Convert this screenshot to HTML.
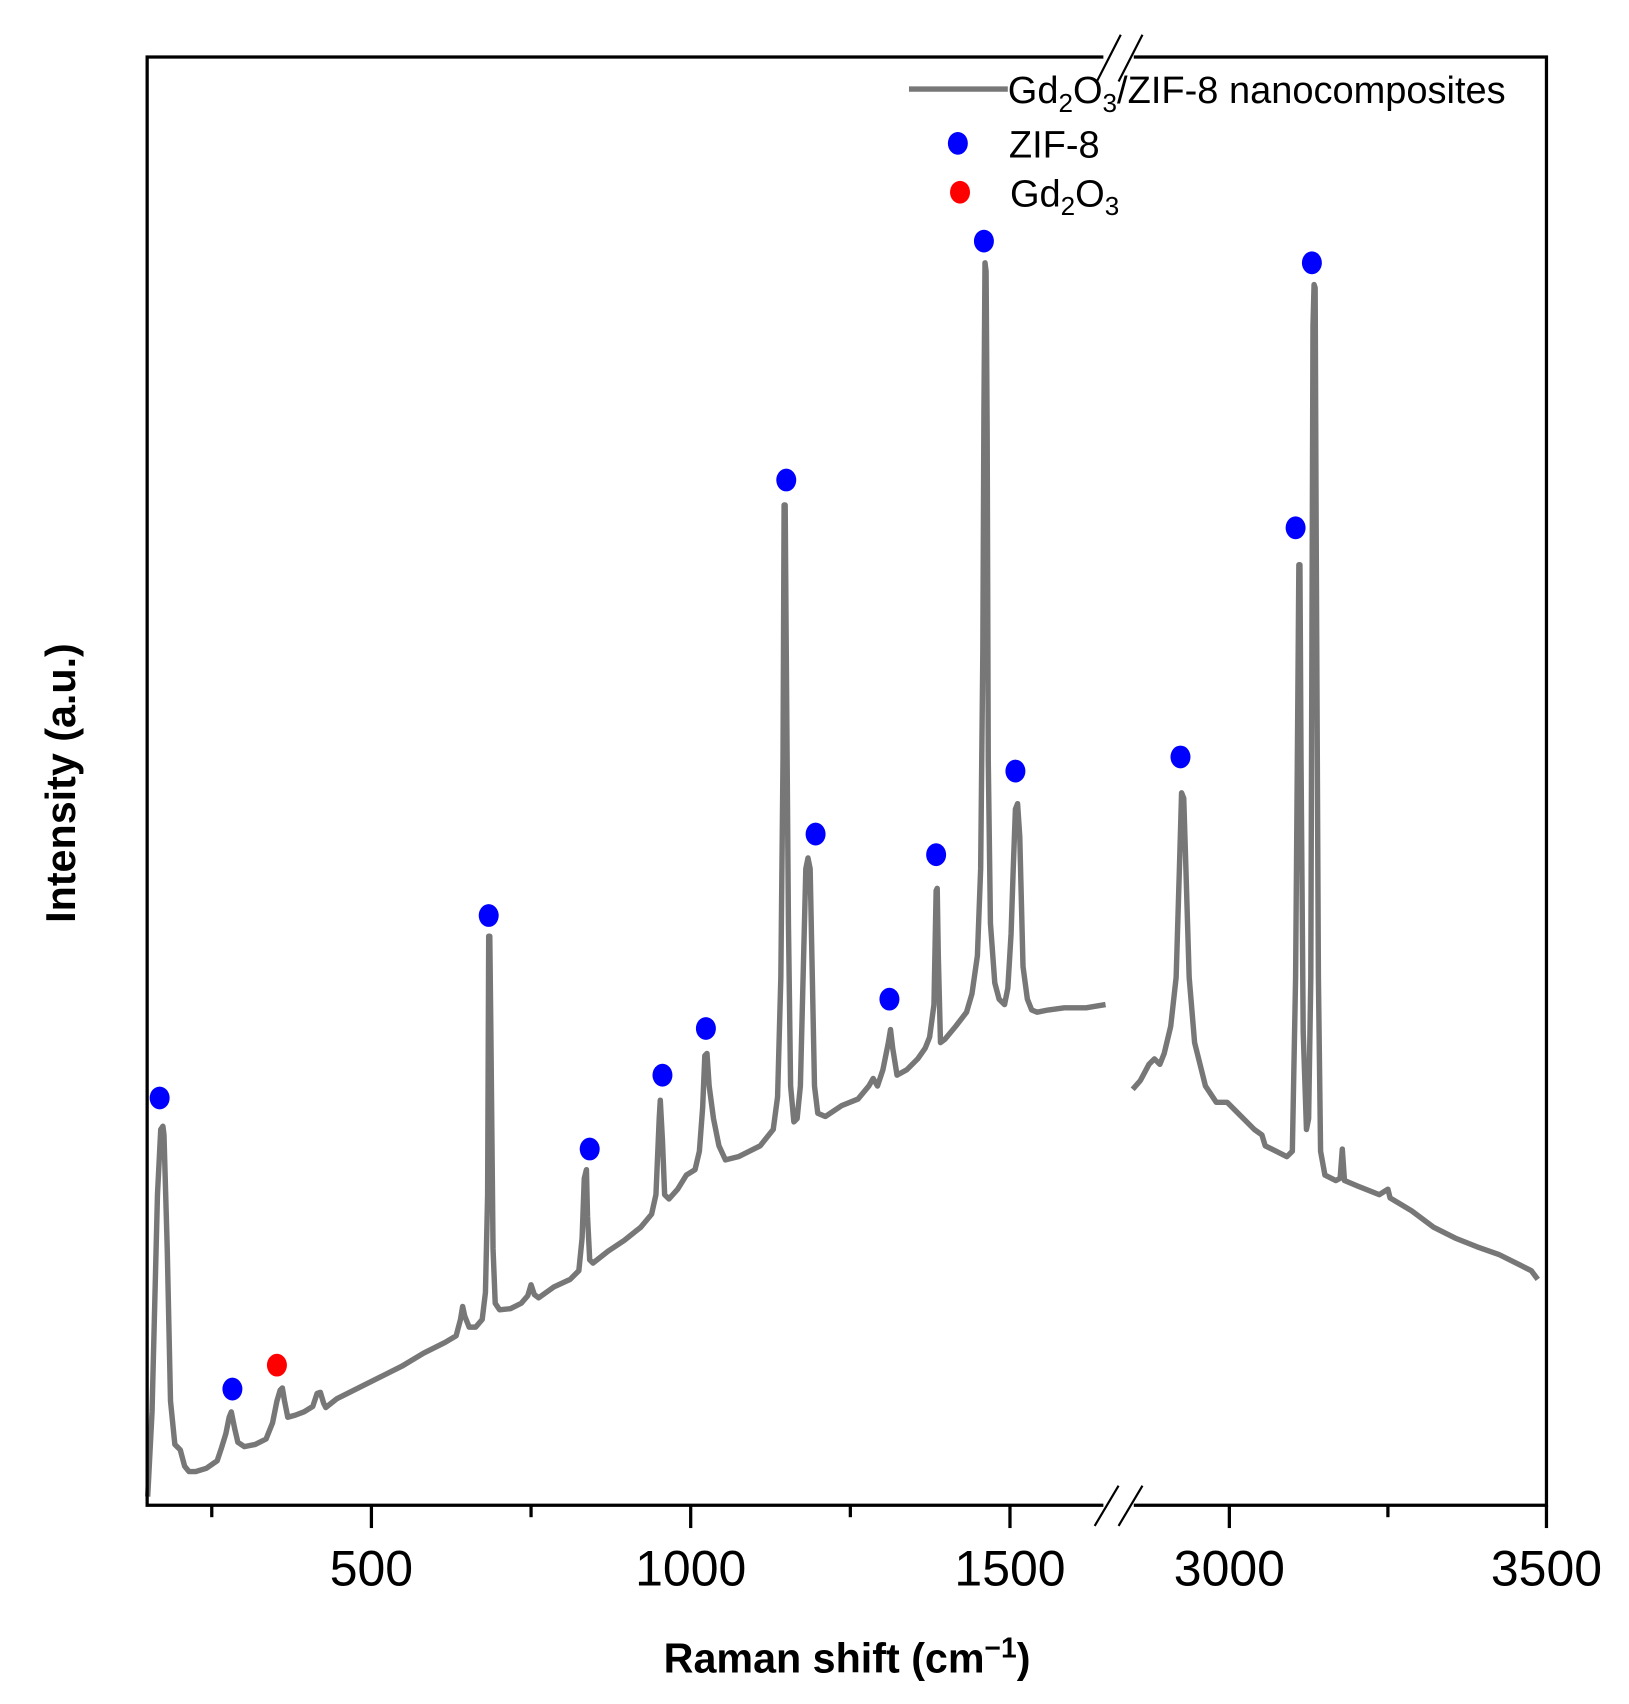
<!DOCTYPE html>
<html><head><meta charset="utf-8"><style>html,body{margin:0;padding:0;background:#fff}svg{display:block}</style></head>
<body>
<svg width="1629" height="1704" viewBox="0 0 1500 1569" preserveAspectRatio="none" xmlns="http://www.w3.org/2000/svg" font-family="Liberation Sans, Arial, sans-serif">
<rect width="1500" height="1569" fill="#fff"/>
<g fill="none" stroke="#777" stroke-width="5" stroke-linejoin="round">
<polyline points="136,1378 140,1300 145,1100 148,1040 150,1037 151,1045 154,1150 157,1290 161,1330 166,1335 170,1350 174,1355 180,1355 190,1352 200,1345 204,1333 208,1320 211,1305 213,1300 216,1315 219,1328 225,1332 235,1330 245,1325 251,1310 255,1290 258,1280 260,1278 262,1290 265,1305 272,1303 280,1300 288,1295 292,1283 295,1282 298,1292 300,1296 310,1288 330,1278 350,1268 370,1258 390,1246 410,1236 420,1230 424,1215 426,1203 428,1212 432,1222 438,1222 444,1215 447,1190 449,1100 450,862 451,862 452,950 454,1150 456,1200 460,1206 470,1205 480,1200 486,1193 489,1183 492,1192 496,1195 510,1185 525,1178 533,1170 536,1140 538,1085 540,1077 541,1120 543,1160 546,1163 560,1152 575,1142 590,1130 600,1118 604,1100 607,1030 608,1013 610,1050 612,1100 616,1104 624,1095 632,1082 640,1077 644,1060 647,1020 649,972 651,970 653,1000 657,1030 662,1055 668,1068 680,1065 700,1055 712,1040 716,1010 719,900 721,700 722,465 723,465 724,600 726,850 728,1000 731,1033 734,1030 737,1000 740,880 742,800 744,790 746,800 748,900 750,1000 753,1025 760,1028 775,1018 790,1012 800,1000 804,993 808,1000 813,985 818,960 820,948 822,965 826,990 835,985 845,975 852,965 856,955 860,925 862,820 863,818 864,880 866,960 870,957 880,945 890,932 895,915 900,880 903,800 905,600 906,380 907,242 908,250 909,400 910,700 912,850 916,905 920,920 925,925 928,910 931,860 933,800 935,745 937,740 939,770 942,890 946,920 950,930 955,932 965,930 980,928 1000,928 1018,925"/>
<polyline points="1043,1003 1050,995 1058,980 1063,975 1068,980 1072,970 1078,945 1083,900 1086,800 1088,730 1090,735 1092,800 1095,900 1100,960 1110,1000 1120,1015 1130,1015 1140,1025 1155,1040 1162,1045 1165,1055 1175,1060 1185,1065 1190,1060 1193,900 1195,650 1196,520 1197,520 1198,700 1200,950 1203,1040 1205,1030 1207,900 1208,600 1209,300 1210,262 1211,265 1212,500 1214,900 1216,1060 1220,1082 1230,1087 1234,1085 1236,1058 1238,1087 1250,1092 1270,1100 1278,1095 1280,1103 1300,1115 1320,1130 1340,1140 1360,1148 1380,1155 1400,1165 1410,1170 1416,1178"/>
</g>
<g fill="#0000ff">
<ellipse cx="147" cy="1011" rx="9.2" ry="10.5"/><ellipse cx="214" cy="1279" rx="9.2" ry="10.5"/><ellipse cx="450" cy="843" rx="9.2" ry="10.5"/><ellipse cx="543" cy="1058" rx="9.2" ry="10.5"/><ellipse cx="610" cy="990" rx="9.2" ry="10.5"/><ellipse cx="650" cy="947" rx="9.2" ry="10.5"/><ellipse cx="724" cy="442" rx="9.2" ry="10.5"/><ellipse cx="751" cy="768" rx="9.2" ry="10.5"/><ellipse cx="819" cy="920" rx="9.2" ry="10.5"/><ellipse cx="862" cy="787" rx="9.2" ry="10.5"/><ellipse cx="906" cy="222" rx="9.2" ry="10.5"/><ellipse cx="935" cy="710" rx="9.2" ry="10.5"/><ellipse cx="1087" cy="697" rx="9.2" ry="10.5"/><ellipse cx="1193" cy="486" rx="9.2" ry="10.5"/><ellipse cx="1208" cy="242" rx="9.2" ry="10.5"/>
<ellipse cx="882" cy="132" rx="9.2" ry="10.5"/>
</g>
<g fill="#ff0000"><ellipse cx="255" cy="1257" rx="9.2" ry="10.5"/><ellipse cx="884" cy="177" rx="9.2" ry="10.5"/></g>
<line x1="837" y1="82" x2="928" y2="82" stroke="#777" stroke-width="5"/>
<g font-size="35" fill="#000">
<text x="928" y="95">Gd<tspan font-size="24" dy="8">2</tspan><tspan dy="-8">O</tspan><tspan font-size="24" dy="8">3</tspan><tspan dy="-8">/ZIF-8 nanocomposites</tspan></text>
<text x="929" y="145">ZIF-8</text>
<text x="930" y="190">Gd<tspan font-size="24" dy="8">2</tspan><tspan dy="-8">O</tspan><tspan font-size="24" dy="8">3</tspan></text>
</g>
<g stroke="#000" stroke-width="3" fill="none">
<rect x="135.5" y="52.5" width="1288.5" height="1333.5"/>
<line x1="195" y1="1386" x2="195" y2="1397"/><line x1="342" y1="1386" x2="342" y2="1407"/><line x1="489" y1="1386" x2="489" y2="1397"/><line x1="636" y1="1386" x2="636" y2="1407"/><line x1="783" y1="1386" x2="783" y2="1397"/><line x1="930" y1="1386" x2="930" y2="1407"/>
<line x1="1132" y1="1386" x2="1132" y2="1407"/><line x1="1278" y1="1386" x2="1278" y2="1397"/><line x1="1424" y1="1386" x2="1424" y2="1407"/>
</g>
<rect x="1016" y="1380" width="28" height="12" fill="#fff"/>
<rect x="1016" y="46" width="28" height="12" fill="#fff"/>
<g stroke="#000" stroke-width="2">
<line x1="1008" y1="1405" x2="1030" y2="1368"/><line x1="1030" y1="1405" x2="1052" y2="1368"/>
<line x1="1010" y1="75" x2="1032" y2="32"/><line x1="1030" y1="75" x2="1052" y2="32"/>
</g>
<g font-size="46" text-anchor="middle" fill="#000">
<text x="342" y="1460">500</text><text x="636" y="1460">1000</text><text x="930" y="1460">1500</text><text x="1132" y="1460">3000</text><text x="1424" y="1460">3500</text>
</g>
<text x="780" y="1540" font-size="38" font-weight="bold" text-anchor="middle">Raman shift (cm<tspan font-size="26" dy="-14">−1</tspan><tspan dy="14">)</tspan></text>
<text transform="translate(69,721) rotate(-90)" font-size="38" font-weight="bold" text-anchor="middle">Intensity (a.u.)</text>
</svg>
</body></html>
